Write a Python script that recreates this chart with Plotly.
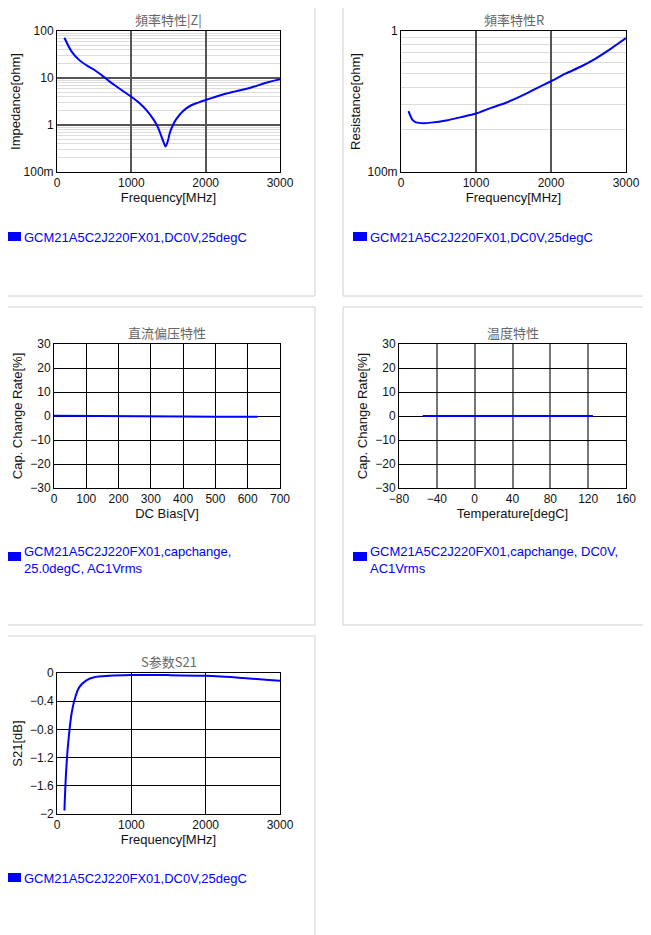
import plotly.graph_objects as go

W, H = 651, 935
OFF = 8  # page body margin

z_freq = [100,200,300,400,500,600,700,800,900,1000,1100,1200,1300,1350,1400,1430,1460,1490,1520,1560,1600,1700,1800,1900,2000,2200,2400,2600,2800,3000]
z_vals = [72,36,24,18.5,15,11.5,8.6,6.6,5.1,4.0,3.0,2.1,1.3,0.95,0.6,0.45,0.35,0.45,0.7,1.0,1.3,2.0,2.6,3.0,3.4,4.3,5.2,6.2,7.8,9.4]
r_freq = [100,150,200,300,400,600,800,1000,1200,1400,1600,1800,2000,2200,2400,2600,2800,3000]
r_vals = [0.27,0.235,0.225,0.222,0.224,0.232,0.245,0.26,0.285,0.31,0.345,0.39,0.44,0.5,0.56,0.64,0.75,0.89]
dc_bias = [0,100,200,300,400,500,630]
dc_vals = [0.1,0.1,0.0,-0.1,-0.2,-0.3,-0.3]
temp = [-55,-25,0,25,50,85,125]
temp_vals = [0.0,0.0,0.05,0.0,0.0,0.0,0.0]
s_freq = [100,120,150,200,250,300,400,500,700,1000,1500,2000,2500,3000]
s_vals = [-1.95,-1.45,-1.0,-0.55,-0.33,-0.2,-0.1,-0.06,-0.04,-0.03,-0.03,-0.04,-0.07,-0.11]

legend1 = "GCM21A5C2J220FX01,DC0V,25degC"
legend3 = "GCM21A5C2J220FX01,capchange,<br>25.0degC, AC1Vrms"
legend4 = "GCM21A5C2J220FX01,capchange, DC0V,<br>AC1Vrms"

fig = go.Figure()
BLUE = "#0000ff"
FONT = "Liberation Sans, Arial, sans-serif"

def px(x): return (x - OFF) / W
def py(y): return 1 - (y - OFF) / H

panels = [
    ("", (57, 31, 280, 172), (0, 0, 315, 296), "頻率特性|Z|"),
    ("2", (401, 31, 626, 172), (343, 0, 660, 296), "頻率特性R"),
    ("3", (54, 344, 280, 488), (0, 307, 315, 625), "直流偏压特性"),
    ("4", (399, 344, 626, 488), (343, 307, 660, 625), "温度特性"),
    ("5", (57, 673, 280, 814), (0, 636, 315, 945), "S参数S21"),
]

tf = dict(family=FONT, size=12, color="#111")
for i, (n, pb, box, title) in enumerate(panels):
    fig.add_shape(type="rect", xref="paper", yref="paper", x0=px(box[0]), x1=px(box[2]),
                  y0=py(box[3]), y1=py(box[1]), line=dict(color="#d0d0d0", width=1), layer="below")
    fig.add_annotation(xref="paper", yref="paper", x=px((pb[0] + pb[2]) / 2), y=py(pb[1] - 23),
                       xanchor="center", yanchor="top",
                       text=title, showarrow=False, font=dict(family="Noto Sans CJK SC", size=13, color="#666"))
    fig.layout["xaxis" + n] = dict(domain=[px(pb[0]), px(pb[2])], anchor="y" + n, tickfont=tf, automargin=False,
                                   showline=True, mirror=True, linecolor="#000", linewidth=1, ticks="",
                                   title=dict(text="", font=dict(family=FONT, size=13, color="#111"), standoff=2),
                                   zeroline=False)
    fig.layout["yaxis" + n] = dict(domain=[py(pb[3]), py(pb[1])], anchor="x" + n, tickfont=tf, automargin=False,
                                   showline=True, mirror=True, linecolor="#000", linewidth=1, ticks="",
                                   title=dict(text="", font=dict(family=FONT, size=13, color="#111"), standoff=4),
                                   zeroline=False)

def leg(x, y, text, ty):
    fig.add_shape(type="rect", xref="paper", yref="paper", x0=px(x), x1=px(x + 14),
                  y0=py(y + 9), y1=py(y), fillcolor=BLUE, line=dict(width=0))
    fig.add_annotation(xref="paper", yref="paper", x=px(x + 15), y=py(ty), xanchor="left", yanchor="top",
                       text=text, showarrow=False, align="left",
                       font=dict(family=FONT, size=13, color=BLUE))

leg(7, 232, legend1, 228)
leg(353, 232, legend1, 228)
leg(7, 552, legend3, 542)
leg(353, 552, legend4, 542)
leg(7, 873, legend1, 869)

line = dict(color=BLUE, width=2)
fig.add_trace(go.Scatter(x=z_freq, y=z_vals, mode="lines", line=dict(color=BLUE, width=2, shape="spline"), xaxis="x", yaxis="y"))
fig.add_trace(go.Scatter(x=r_freq, y=r_vals, mode="lines", line=dict(color=BLUE, width=2, shape="spline", smoothing=0.6), xaxis="x2", yaxis="y2"))
fig.add_trace(go.Scatter(x=dc_bias, y=dc_vals, mode="lines", line=line, xaxis="x3", yaxis="y3"))
fig.add_trace(go.Scatter(x=temp, y=temp_vals, mode="lines", line=line, xaxis="x4", yaxis="y4"))
fig.add_trace(go.Scatter(x=s_freq, y=s_vals, mode="lines", line=dict(color=BLUE, width=2, shape="spline"), xaxis="x5", yaxis="y5"))

major = dict(showgrid=True, gridcolor="#555", gridwidth=1.5)
minor_log = dict(showgrid=True, gridcolor="#dcdcdc", gridwidth=1, dtick="D1")
fig.update_layout(
    xaxis=dict(range=[0, 3000], tickvals=[0, 1000, 2000, 3000], title_text="Frequency[MHz]", **major),
    yaxis=dict(type="log", range=[-1, 2], tickvals=[0.1, 1, 10, 100], ticktext=["100m", "1", "10", "100"],
               title_text="Impedance[ohm]", minor=minor_log, **major),
    xaxis2=dict(range=[0, 3000], tickvals=[0, 1000, 2000, 3000], title_text="Frequency[MHz]", **major),
    yaxis2=dict(type="log", range=[-1, 0], tickvals=[0.1, 1], ticktext=["100m", "1"],
                title_text="Resistance[ohm]", minor=minor_log, showgrid=False),
    xaxis3=dict(range=[0, 700], dtick=100, title_text="DC Bias[V]", showgrid=True, gridcolor="#000", gridwidth=1),
    yaxis3=dict(range=[-30, 30], dtick=10, title_text="Cap. Change Rate[%]", showgrid=True, gridcolor="#000", gridwidth=1),
    xaxis4=dict(range=[-80, 160], dtick=40, title_text="Temperature[degC]", showgrid=True, gridcolor="#777", gridwidth=2),
    yaxis4=dict(range=[-30, 30], dtick=10, title_text="Cap. Change Rate[%]", showgrid=True, gridcolor="#000", gridwidth=1),
    xaxis5=dict(range=[0, 3000], tickvals=[0, 1000, 2000, 3000], title_text="Frequency[MHz]", showgrid=True, gridcolor="#000", gridwidth=1),
    yaxis5=dict(range=[-2, 0], dtick=0.4, title_text="S21[dB]", showgrid=True, gridcolor="#000", gridwidth=1),
)
fig.update_layout(width=W, height=H, margin=dict(l=0, r=0, t=0, b=0, autoexpand=False), showlegend=False,
                  paper_bgcolor="white", plot_bgcolor="white", font=dict(family=FONT))
fig.write_html("out.html")
